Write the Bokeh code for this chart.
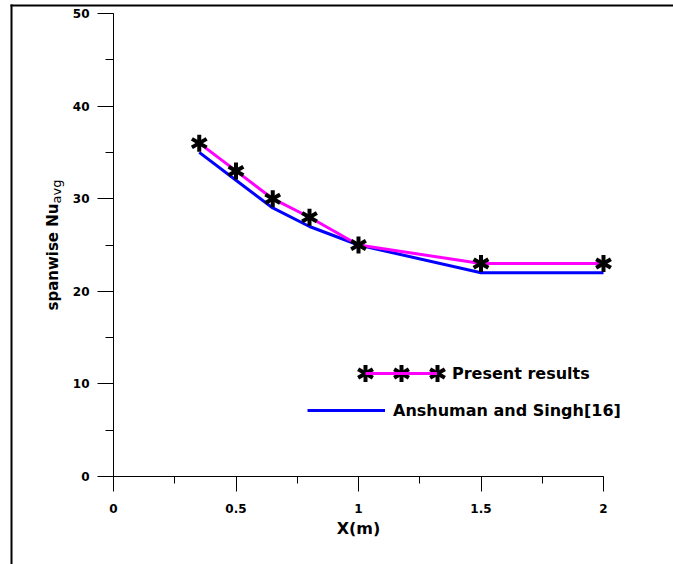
import math
from bokeh.plotting import figure
from bokeh.models import (Range1d, SingleIntervalTicker, CustomJSTickFormatter,
                          Legend, LegendItem, Label, BoxAnnotation)
from bokeh.embed import file_html
from bokeh.resources import INLINE

# ---- data ----
x_present = [0.35, 0.5, 0.65, 0.8, 1.0, 1.5, 2.0]
nu_present = [36, 33, 30, 28, 25, 23, 23]
x_ref = [0.35, 0.5, 0.65, 0.8, 1.0, 1.5, 2.0]
nu_ref = [35, 32, 29, 27, 25, 22, 22]

label_present = "Present results"
label_ref = "Anshuman and Singh[16]"
x_title = "X(m)"
y_title_main = "spanwise Nu"
y_title_sub = "avg"

FONT = "DejaVu Sans"

# ---- layout constants (pixels) ----
W, H = 673, 564
X0_PX, PX_PER_X = 113.0, 245.0      # screen x of x=0, px per unit
Y0_PX, PX_PER_Y = 476.0, 9.26       # screen y of y=0, px per unit


def px2x(px):
    return (px - X0_PX) / PX_PER_X


def py2y(py):
    return (Y0_PX - py) / PX_PER_Y


p = figure(width=W, height=H, output_backend="svg", toolbar_location=None,
           title=None,
           x_range=Range1d(px2x(0), px2x(W)), y_range=Range1d(py2y(H), py2y(0)),
           min_border=0, min_border_left=0, min_border_right=0,
           min_border_top=0, min_border_bottom=0)
p.outline_line_color = None
p.xgrid.visible = False
p.ygrid.visible = False
p.background_fill_color = "white"
p.border_fill_color = "white"

# axes (drawn at the data origin)
xa = p.xaxis[0]
ya = p.yaxis[0]
xa.fixed_location = 0
ya.fixed_location = 0
xa.bounds = (0, 2)
ya.bounds = (0, 50)
xa.ticker = SingleIntervalTicker(interval=0.5, num_minor_ticks=2)
ya.ticker = SingleIntervalTicker(interval=10, num_minor_ticks=2)
xa.formatter = CustomJSTickFormatter(code="return tick.toString();")
for ax in (xa, ya):
    ax.axis_line_color = "black"
    ax.axis_line_width = 1
    ax.major_tick_line_color = "black"
    ax.minor_tick_line_color = "black"
    ax.major_tick_line_width = 1
    ax.minor_tick_line_width = 1
    ax.major_tick_in = 0
    ax.minor_tick_in = 0
    ax.major_label_text_font = FONT
    ax.major_label_text_font_style = "bold"
    ax.major_label_text_font_size = "12px"
    ax.major_label_text_color = "black"
xa.major_tick_out = 15
xa.minor_tick_out = 7
ya.major_tick_out = 16
ya.minor_tick_out = 8
xa.major_label_standoff = 12
ya.major_label_standoff = 8

xa.axis_label = x_title
xa.axis_label_text_font = FONT
xa.axis_label_text_font_style = "bold"
xa.axis_label_text_font_size = "16px"
xa.axis_label_text_color = "black"
xa.axis_label_standoff = 3

# data lines and star markers
r_blue = p.line(x_ref, nu_ref, line_color="#0000FF", line_width=3)
r_mag = p.line(x_present, nu_present, line_color="#FF00FF", line_width=3)
STAR_ANGLES = (math.pi / 2, math.pi / 6, -math.pi / 6)
for a in STAR_ANGLES:
    p.scatter(x_present, nu_present, marker="dash", size=17, angle=a,
              line_color="black", line_width=4)

# y title (with subscript) as rotated labels
p.add_layout(Label(x=px2x(52), y=py2y(203), text=y_title_main, angle=math.pi / 2,
                   text_align="right", text_baseline="alphabetic",
                   text_font=FONT, text_font_style="bold",
                   text_font_size="15px", text_color="black"))
p.add_layout(Label(x=px2x(52), y=py2y(203), x_offset=4, text=y_title_sub,
                   angle=math.pi / 2, text_align="left", text_baseline="alphabetic",
                   text_font=FONT, text_font_style="normal",
                   text_font_size="13px", text_color="black"))


# legends
def make_legend(items, loc, gw, standoff):
    return Legend(items=items, location=loc, glyph_width=gw, glyph_height=20,
                  label_standoff=standoff, padding=0, margin=0, spacing=0,
                  border_line_alpha=0, background_fill_alpha=0,
                  label_text_font=FONT, label_text_font_style="bold",
                  label_text_font_size="16px", label_text_color="black")


LEG1_LEFT, LEG1_CY, LEG1_W = 365, 373, 72
LEG2_LEFT, LEG2_CY, LEG2_W = 307, 410, 78
p.add_layout(make_legend([LegendItem(label=label_present, renderers=[r_mag])],
                         (LEG1_LEFT, H - LEG1_CY - 10), LEG1_W, 15))
p.add_layout(make_legend([LegendItem(label=label_ref, renderers=[r_blue])],
                         (LEG2_LEFT, H - LEG2_CY - 10), LEG2_W, 8))

# star samples on the first legend row
leg_star_px = [LEG1_LEFT, LEG1_LEFT + LEG1_W / 2, LEG1_LEFT + LEG1_W]
for a in STAR_ANGLES:
    p.scatter([px2x(v) for v in leg_star_px], [py2y(LEG1_CY)] * 3, marker="dash",
              size=17, angle=a, line_color="black", line_width=4, level="overlay")

# outer frame of the figure: only its left and top edges fall inside the window
p.add_layout(BoxAnnotation(left=px2x(10), right=px2x(12), top=py2y(4),
                           bottom=py2y(H + 50), fill_color="black", fill_alpha=1,
                           line_color=None))
p.add_layout(BoxAnnotation(left=px2x(10), right=px2x(W + 50), top=py2y(4),
                           bottom=py2y(6), fill_color="black", fill_alpha=1,
                           line_color=None))

open("out.html", "w").write(file_html(p, INLINE))
